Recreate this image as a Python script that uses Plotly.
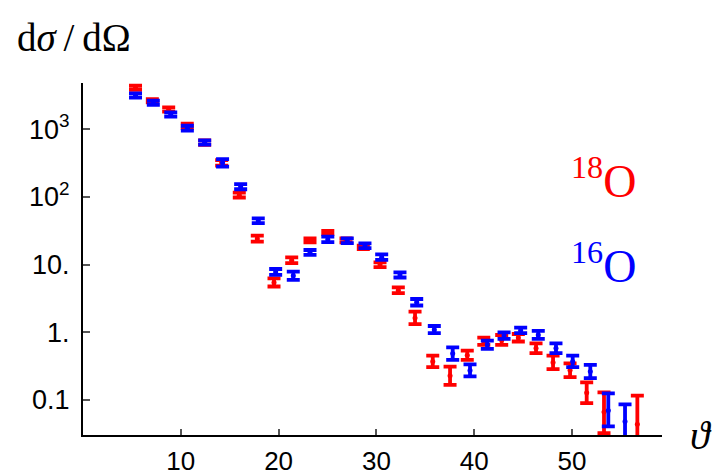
import plotly.graph_objects as go

# 18O data (red)
theta_18 = [5.37, 7.09, 8.76, 10.66, 12.44, 14.18, 15.98, 17.82, 19.53, 21.34,
            23.21, 25.03, 26.89, 28.66, 30.37, 32.24, 33.95, 35.76, 37.53, 39.29,
            40.98, 42.81, 44.51, 46.32, 48.06, 49.80, 51.50, 53.27, 56.68]
sigma_18 = [4102, 2645, 1961, 1119, 634, 320, 106.3, 24.2, 5.459, 11.61,
            22.9, 29.7, 22.8, 17.95, 9.97, 4.187, 1.632, 0.3717, 0.2285, 0.4588,
            0.7387, 0.7721, 0.8322, 0.5823, 0.3593, 0.2756, 0.1282, 0.0667, 0.0439]
err_up_18 = [295, 153, 141, 88, 50, 31.4, 9.25, 2.57, 0.808, 1.18,
             1.49, 1.72, 1.64, 1.09, 0.83, 0.427, 0.387, 0.0803, 0.0823, 0.0766,
             0.0946, 0.1413, 0.1132, 0.1042, 0.0927, 0.0722, 0.0541, 0.0630, 0.0720]
err_dn_18 = [290, 135, 132, 82, 46, 28.6, 8.14, 2.24, 0.704, 1.11,
             1.48, 1.52, 1.53, 1.03, 0.80, 0.401, 0.313, 0.066, 0.0611, 0.067,
             0.0861, 0.1194, 0.0996, 0.0901, 0.0737, 0.0581, 0.0384, 0.0343, 0.0181]

# 16O data (blue)
theta_16 = [5.37, 7.19, 8.97, 10.67, 12.44, 14.27, 16.12, 17.92, 19.70, 21.50,
            23.21, 25.03, 27.02, 28.83, 30.54, 32.41, 34.12, 35.92, 37.80, 39.57,
            41.34, 43.05, 44.75, 46.55, 48.36, 50.07, 51.87, 53.71, 55.42]
sigma_16 = [3157, 2462, 1654, 1038, 638, 320, 141.9, 44.5, 7.80, 6.858,
            15.14, 23.56, 22.54, 19.02, 12.91, 7.045, 2.783, 1.096, 0.4846, 0.2737,
            0.656, 0.8941, 1.067, 0.9155, 0.5823, 0.3717, 0.2627, 0.0697, 0.0480]
err_up_16 = [227, 177, 119, 90, 46, 43.5, 13.3, 3.69, 0.827, 1.015,
             1.32, 2.31, 1.87, 1.58, 1.27, 0.641, 0.326, 0.145, 0.1149, 0.0624,
             0.0971, 0.1046, 0.1046, 0.1318, 0.1042, 0.0803, 0.0667, 0.0556, 0.0383]
err_dn_16 = [212, 174, 111, 79.5, 42.9, 38.3, 11.8, 3.56, 0.747, 0.905,
             1.21, 2.10, 1.80, 1.52, 1.15, 0.588, 0.291, 0.124, 0.0928, 0.0508,
             0.0865, 0.0936, 0.0953, 0.1153, 0.0901, 0.066, 0.0525, 0.029, 0.0216]

y_tickvals = [1000, 100, 10, 1, 0.1]
y_ticktext = ["10<sup>3</sup>", "10<sup>2</sup>", "10.", "1.", "0.1"]
x_tickvals = [10, 20, 30, 40, 50]

RED = "#FF0000"
BLUE = "#0000FF"

fig = go.Figure()
for th, sg, eu, ed, col in [(theta_18, sigma_18, err_up_18, err_dn_18, RED),
                            (theta_16, sigma_16, err_up_16, err_dn_16, BLUE)]:
    fig.add_trace(go.Scatter(
        x=th, y=sg, mode="markers",
        marker=dict(color=col, size=5),
        error_y=dict(type="data", symmetric=False, array=eu, arrayminus=ed,
                     color=col, thickness=3.8, width=6.5),
        cliponaxis=False, showlegend=False, hoverinfo="skip",
    ))

fig.update_layout(
    width=713, height=476,
    margin=dict(l=83, r=51, t=83, b=41, autoexpand=False),
    paper_bgcolor="white", plot_bgcolor="white",
    font=dict(family="Liberation Sans, Arial, sans-serif", color="black"),
    xaxis=dict(range=[0, 59.2], tickvals=x_tickvals, ticks="inside", ticklen=6,
               tickwidth=1.5, tickcolor="#555", showline=True, linecolor="black",
               linewidth=2, showgrid=False, zeroline=False, ticklabelstandoff=2,
               automargin=False,
               tickfont=dict(size=26, family="Liberation Sans, Arial, sans-serif")),
    yaxis=dict(type="log", range=[-1.517, 3.684], tickvals=y_tickvals,
               ticktext=y_ticktext, ticks="inside", ticklen=7, tickwidth=1.5,
               tickcolor="#555", showline=True, linecolor="black", linewidth=2,
               showgrid=False, zeroline=False, ticklabelstandoff=6,
               automargin=False,
               tickfont=dict(size=27, family="Liberation Sans, Arial, sans-serif")),
    annotations=[
        dict(text="d<i>σ</i>\u2009/\u2009dΩ", xref="paper", yref="paper", x=-0.118, y=1.128,
             xanchor="left", yanchor="middle", showarrow=False,
             font=dict(family="Liberation Serif, serif", size=39, color="black")),
        dict(text="<i>ϑ</i>", xref="paper", yref="paper", x=1.045, y=0.0,
             xanchor="left", yanchor="middle", showarrow=False,
             font=dict(family="Liberation Serif, serif", size=40, color="black")),
        dict(text="<sup>18</sup>O", xref="paper", yref="paper", x=0.84, y=0.73,
             xanchor="left", yanchor="middle", showarrow=False,
             font=dict(family="Liberation Serif, serif", size=46, color=RED)),
        dict(text="<sup>16</sup>O", xref="paper", yref="paper", x=0.84, y=0.49,
             xanchor="left", yanchor="middle", showarrow=False,
             font=dict(family="Liberation Serif, serif", size=46, color=BLUE)),
    ],
)

fig.write_html("out.html")
